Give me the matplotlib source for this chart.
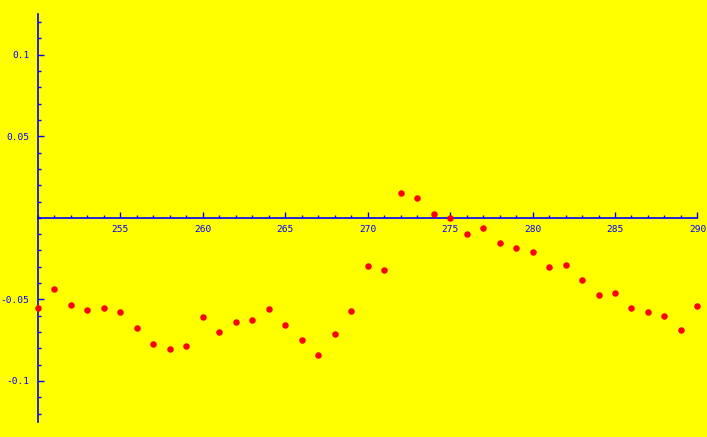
"""
Scatter of residual values against index, Mathematica-style axes
"""
import matplotlib
matplotlib.use("Agg")
import numpy as np
from matplotlib import pyplot as plt
from matplotlib.ticker import MultipleLocator, FixedLocator

x_values: list[int] = list(range(250, 291))
y_values: list[float] = [
    -0.0553, -0.0437, -0.0535, -0.0565, -0.0553, -0.0578, -0.0676, -0.0774, -0.0804, -0.0786,
    -0.0608, -0.0700, -0.0639, -0.0627, -0.0559, -0.0657, -0.0749, -0.0841, -0.0712, -0.0571,
    -0.0296, -0.0320, 0.0151, 0.0121, 0.0023, -0.0002, -0.0100, -0.0063, -0.0155, -0.0186,
    -0.0210, -0.0302, -0.0290, -0.0382, -0.0473, -0.0461, -0.0553, -0.0578, -0.0602, -0.0688,
    -0.0541,
]
x_tick_labels: list[int] = [255, 260, 265, 270, 275, 280, 285, 290]
y_tick_values: list[float] = [-0.1, -0.05, 0.05, 0.1]
y_tick_labels: list[str] = ["-0.1", "-0.05", "0.05", "0.1"]

BACKGROUND = "#FFFF00"
AXIS_BLUE = "#0000FF"

fig = plt.figure(figsize=(7.07, 4.37), dpi=100, facecolor=BACKGROUND)
ax = fig.add_axes([0.0535, 0.035, 0.933, 0.933], facecolor=BACKGROUND)

ax.scatter(x_values, y_values, s=22, color="#FF0000", linewidths=0, zorder=5, clip_on=False)

ax.set_xlim(250, 290)
ax.set_ylim(-0.125, 0.125)

# axes crossing at (250, 0)
ax.spines["left"].set_position(("data", 250))
ax.spines["bottom"].set_position(("data", 0))
for side in ("top", "right"):
    ax.spines[side].set_visible(False)
for side in ("left", "bottom"):
    ax.spines[side].set_color(AXIS_BLUE)
    ax.spines[side].set_linewidth(1.2)

ax.xaxis.set_major_locator(FixedLocator(x_tick_labels))
ax.xaxis.set_minor_locator(MultipleLocator(1))
ax.set_xticklabels([str(v) for v in x_tick_labels])
ax.yaxis.set_major_locator(FixedLocator(y_tick_values))
ax.yaxis.set_minor_locator(MultipleLocator(0.01))
ax.set_yticklabels(y_tick_labels)

ax.tick_params(which="both", direction="in", colors=AXIS_BLUE, width=1)
ax.tick_params(which="major", length=4.5)
ax.tick_params(which="minor", length=2.5)
ax.tick_params(axis="x", which="major", pad=5)
ax.tick_params(axis="y", which="major", pad=6)
for label in ax.get_xticklabels() + ax.get_yticklabels():
    label.set_fontfamily("DejaVu Sans Mono")
    label.set_fontsize(6.8)
    label.set_color(AXIS_BLUE)

fig.savefig("out.png", dpi=100, facecolor=BACKGROUND)
